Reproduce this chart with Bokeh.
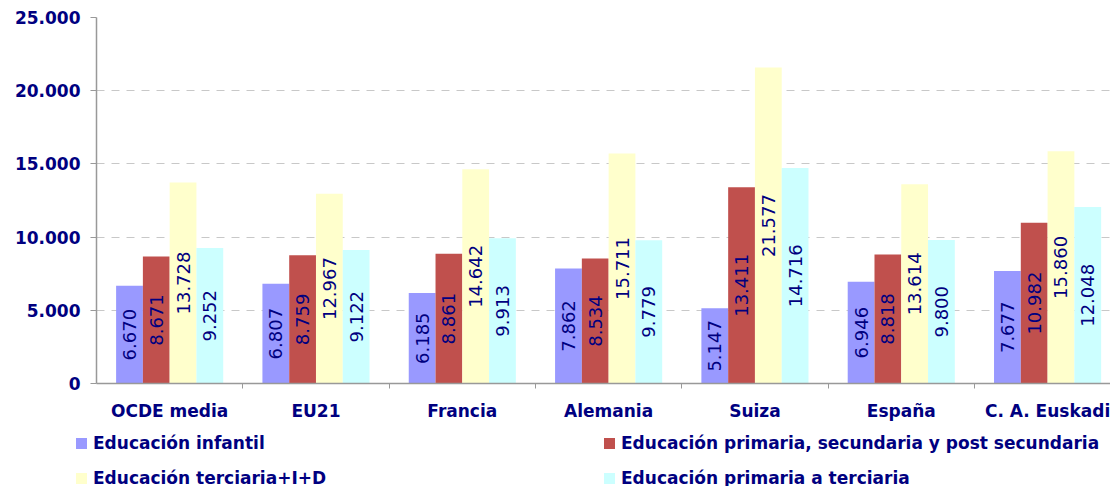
import math
from bokeh.plotting import figure
from bokeh.layouts import column
from bokeh.models import (ColumnDataSource, FixedTicker, Range1d, Div)
from bokeh.transform import dodge
from bokeh.core.properties import value
from bokeh.embed import file_html
from bokeh.resources import INLINE

categories = ["OCDE media", "EU21", "Francia", "Alemania", "Suiza", "España", "C. A. Euskadi"]
infantil = [6670, 6807, 6185, 7862, 5147, 6946, 7677]
primaria_sec = [8671, 8759, 8861, 8534, 13411, 8818, 10982]
terciaria = [13728, 12967, 14642, 15711, 21577, 13614, 15860]
primaria_ter = [9252, 9122, 9913, 9779, 14716, 9800, 12048]
series_names = ["Educación infantil",
                "Educación primaria, secundaria y post secundaria",
                "Educación terciaria+I+D",
                "Educación primaria a terciaria"]
series_values = [infantil, primaria_sec, terciaria, primaria_ter]
colors = ["#9999FF", "#C0504D", "#FFFFCC", "#CCFFFF"]
y_ticks = [0, 5000, 10000, 15000, 20000, 25000]

NAVY = "#000080"
FONT = "DejaVu Sans"

def fmt(v):
    return f"{v:,}".replace(",", ".")

xc = [i + 0.5 for i in range(len(categories))]

p = figure(width=1110, height=423, output_backend="svg", toolbar_location=None,
           x_range=Range1d(0, 6.93), y_range=Range1d(0, 25000),
           min_border_left=96, min_border_right=0, min_border_top=17, min_border_bottom=40)
p.outline_line_color = None
p.background_fill_color = "white"
p.xgrid.grid_line_color = None
p.ygrid.grid_line_color = "#C8C8C8"
p.ygrid.grid_line_dash = "8 7"
p.ygrid.ticker = FixedTicker(ticks=y_ticks)

bw = 0.183
offsets = [-1.5 * bw, -0.5 * bw, 0.5 * bw, 1.5 * bw]
for name, vals, col, off in zip(series_names, series_values, colors, offsets):
    src = ColumnDataSource(dict(x=xc, top=vals, mid=[v / 2 for v in vals],
                                lab=[fmt(v) for v in vals]))
    p.vbar(x=dodge("x", off, range=p.x_range), top="top", width=bw, bottom=0,
           source=src, fill_color=col, line_color=None)
    p.text(x=dodge("x", off, range=p.x_range), y="mid", text="lab", source=src,
           angle=math.pi / 2, text_align="center", text_baseline="middle",
           text_font=value(FONT), text_font_size="18px", text_color=NAVY)

# x axis
xa = p.xaxis[0]
xa.ticker = FixedTicker(ticks=xc, minor_ticks=[1, 2, 3, 4, 5, 6])
xa.major_label_overrides = {x: c for x, c in zip(xc, categories)}
xa.major_tick_out = 0
xa.major_tick_in = 0
xa.minor_tick_out = 5
xa.minor_tick_in = 0
xa.minor_tick_line_color = "#999999"
xa.axis_line_color = "#999999"
xa.axis_line_width = 1.5
xa.major_label_standoff = 12
xa.major_label_text_font = FONT
xa.major_label_text_font_style = "bold"
xa.major_label_text_font_size = "17px"
xa.major_label_text_color = NAVY

# y axis
ya = p.yaxis[0]
ya.ticker = FixedTicker(ticks=y_ticks)
ya.major_label_overrides = {t: fmt(t) for t in y_ticks}
ya.major_tick_out = 6
ya.major_tick_in = 0
ya.minor_tick_line_color = None
ya.major_tick_line_color = "#999999"
ya.axis_line_color = "#999999"
ya.axis_line_width = 1.5
ya.major_label_standoff = 10
ya.major_label_text_font = FONT
ya.major_label_text_font_style = "bold"
ya.major_label_text_font_size = "17px"
ya.major_label_text_color = NAVY

# legend (HTML block below the chart): 2 columns x 2 rows
legend_cols = [76, 604]
legend_rows = [12, 47]
legend_order = [[0, 2], [1, 3]]  # [column][row] -> series index
parts = []
for ci, lx in enumerate(legend_cols):
    for ri, ly in enumerate(legend_rows):
        si = legend_order[ci][ri]
        parts.append(
            f'<span style="position:absolute;left:{lx}px;top:{ly + 3}px;width:11px;height:11px;'
            f'background:{colors[si]};"></span>'
            f'<span style="position:absolute;left:{lx + 17}px;top:{ly}px;line-height:17px;'
            f'white-space:nowrap;">{series_names[si]}</span>')
html = ('<div style="position:relative;width:1110px;height:63px;'
        f"font-family:'{FONT}';font-weight:bold;font-size:17px;color:{NAVY};\">"
        + "".join(parts) + "</div>")
leg = Div(text=html, width=1110, height=63, margin=(0, 0, 0, 0))

layout = column(p, leg, spacing=0)
open("out.html", "w").write(file_html(layout, INLINE))
